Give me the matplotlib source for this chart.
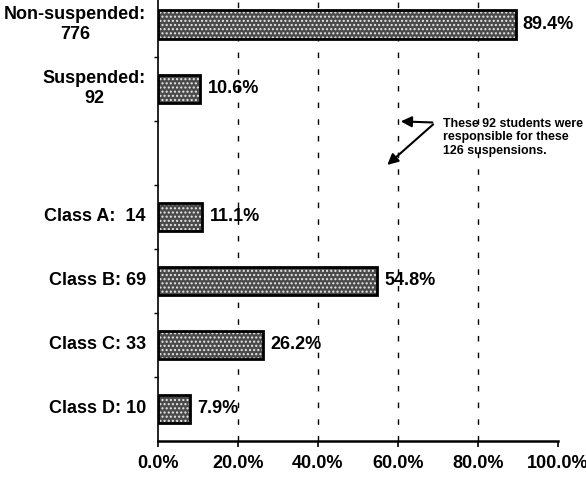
import matplotlib
matplotlib.use("Agg")
import matplotlib.pyplot as plt
import numpy as np

plt.rcParams['font.family'] = ['Liberation Sans', 'DejaVu Sans']

categories = ["Non-suspended:\n776", "Suspended:\n92", "", "Class A:  14",
              "Class B: 69", "Class C: 33", "Class D: 10"]
values = [89.4, 10.6, None, 11.1, 54.8, 26.2, 7.9]
value_labels = ["89.4%", "10.6%", "", "11.1%", "54.8%", "26.2%", "7.9%"]
xticks = [0, 20, 40, 60, 80, 100]
xtick_labels = ["0.0%", "20.0%", "40.0%", "60.0%", "80.0%", "100.0%"]
note = "These 92 students were\nresponsible for these\n126 suspensions."

W, H = 586, 478
fig = plt.figure(figsize=(W / 100, H / 100), dpi=100)
ax = fig.add_axes([158 / W, 1 - 441 / H, 400 / W, 448.5 / H])
ax.set_xlim(0, 100)
ax.set_ylim(6.5, -0.5)

# gridlines
for g in xticks[1:-1]:
    ax.axvline(g, color='black', lw=1.0, linestyle=(0, (4, 8)), zorder=1)

ypos = np.arange(len(categories))
bh = 0.44
for y, v, lab in zip(ypos, values, value_labels):
    if v is None:
        continue
    ax.barh(y, v, height=bh, color='#4a4a4a', edgecolor='none', zorder=2)
    ax.barh(y, v, height=bh, color='none', edgecolor='#e8e8e8', hatch='....',
            lw=0, zorder=3)
    ax.barh(y, v, height=bh, color='none', edgecolor='black', lw=2.0, zorder=4)
    ax.text(v + 1.8, y, lab, ha='left', va='center', fontsize=13,
            fontweight='bold', zorder=5)

for y, c in zip(ypos, categories):
    if not c:
        continue
    ax.text(-3, y, c, ha='right', va='center', multialignment='center',
            fontsize=13, fontweight='bold', transform=ax.transData,
            clip_on=False)

# axes styling
for s in ['top', 'right']:
    ax.spines[s].set_visible(False)
ax.spines['left'].set_linewidth(1.2)
ax.spines['bottom'].set_linewidth(1.8)
ax.set_xticks(xticks)
ax.set_xticklabels(xtick_labels, fontsize=13, fontweight='bold')
ax.tick_params(axis='x', direction='out', length=4, width=1.2, pad=6)
ax.set_yticks(np.arange(0.5, 6.0, 1.0))
ax.set_yticklabels([])
ax.tick_params(axis='y', direction='out', length=3, width=1.0)

# annotation
ax.text(71.3, 1.76, note, ha='left', va='center', fontsize=8.9,
        fontweight='bold', linespacing=1.15, clip_on=False)
ax.annotate('', xy=(60.0, 1.51), xytext=(69.3, 1.53),
            arrowprops=dict(arrowstyle='-|>', color='black', lw=1.5,
                            mutation_scale=16))
ax.annotate('', xy=(56.8, 2.22), xytext=(69.3, 1.53),
            arrowprops=dict(arrowstyle='-|>', color='black', lw=1.5,
                            mutation_scale=16))

fig.savefig('out.png', dpi=100)
